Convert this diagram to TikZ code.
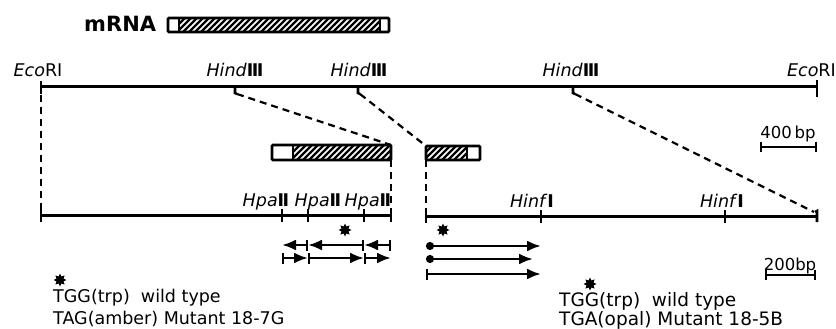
\documentclass[tikz,border=0pt]{standalone}
\usepackage{fontspec}
\setmainfont{DejaVu Sans}
\usetikzlibrary{arrows.meta,shapes.geometric}
\newcommand\myhatch[4]{%
  \begin{scope}
    \clip (#1,#3) rectangle (#2,#4);
    \pgfmathsetmacro\hsA{#1-20}\pgfmathsetmacro\hsB{#1-14}
    \foreach \t in {\hsA,\hsB,...,#2} \draw[line width=2.2pt] (\t,#4) -- ++(18pt,18pt);
  \end{scope}}
\newcommand\rn[1]{\textbf{#1}}
\begin{document}
\begin{tikzpicture}[x=1pt,y=-1pt,
  dna/.style={line width=3pt},
  tk/.style={line width=2.6pt},
  dsh/.style={line width=2.2pt,dash pattern=on 7pt off 5pt},
  boxl/.style={line width=2.6pt,rounded corners=1pt},
  lab/.style={anchor=base,inner sep=0pt,font=\fontsize{17.5}{19}\selectfont},
  txt/.style={anchor=base west,inner sep=0pt},
  ast/.style={star,star points=8,star point ratio=1.7,fill=black,minimum size=13pt,inner sep=0pt},
  arrL/.style={line width=2.6pt,{Bar[width=11pt,line width=2.4pt]}-{Latex[length=14pt,width=11pt]}},
  arrC/.style={line width=2.6pt,{Circle[length=8pt]}-{Latex[length=14pt,width=11pt]}},
  sbar/.style={line width=2.4pt,{Bar[width=10pt]}-{Bar[width=10pt]}}]
\useasboundingbox (0,0) rectangle (836,329);

% mRNA
\node[anchor=base west,inner sep=0pt,font=\bfseries\fontsize{21}{23}\selectfont] (mrna) at (84,32) {mRNA};
\myhatch{179}{380}{18}{32}
\draw[tk] (179,18) -- (179,32) (380,18) -- (380,32);
\draw[boxl] (168,18) rectangle (389,32);

% top map
\coordinate (E1) at (41,87);
\coordinate (H1) at (235,87);
\coordinate (H2) at (358,87);
\coordinate (H3) at (573,87);
\coordinate (E2) at (817,87);
\draw[dna] (E1) -- (E2);
\draw[tk] (41,81) -- (41,94);
\draw[tk] (817,80) -- (817,97);
\foreach \p in {H1,H2,H3} \draw[tk] (\p) -- ++(0,6) -- ++(2,1);
\node[lab] (lE1) at (38,77) {\textit{Eco}RI};
\node[lab] (lH1) at (235,77) {\textit{Hind}\rn{Ⅲ}};
\node[lab] (lH2) at (359,77) {\textit{Hind}\rn{Ⅲ}};
\node[lab] (lH3) at (571,77) {\textit{Hind}\rn{Ⅲ}};
\node[lab,anchor=base east] (lE2) at (836,77) {\textit{Eco}RI};

% boxes
\myhatch{293}{391}{145}{160}
\draw[tk] (293,145) -- (293,160);
\draw[boxl] (272,145) rectangle (391,160);

\myhatch{426}{467}{146}{160}
\draw[tk] (467,146) -- (467,160);
\draw[boxl] (426,146) rectangle (480,160);

\coordinate (B1t) at (391,145);
\coordinate (B1b) at (391,160);
\coordinate (B2t) at (426,146);
\coordinate (B2b) at (426,160);

% lower maps
\coordinate (L0) at (41,215);
\coordinate (L1) at (282,215);
\coordinate (L2) at (308,215);
\coordinate (L3) at (364,215);
\coordinate (L4) at (391,215);
\coordinate (R0) at (426,216);
\coordinate (R1) at (541,216);
\coordinate (R2) at (725,216);
\coordinate (R3) at (817,216);
\draw[dna] (L0) -- (L4);
\draw[dna] (R0) -- (R3);
\foreach \p in {L0,L1,L2,L3,L4,R0,R1,R2} \draw[tk] (\p) ++(0,-6) -- ++(0,13);
\draw[tk] (R3) ++(-2,-4) -- ++(2,-1) -- ++(0,11);

\node[lab] (hp1) at (266,206) {\textit{Hpa}\rn{Ⅱ}};
\node[lab] (hp2) at (318,206) {\textit{Hpa}\rn{Ⅱ}};
\node[lab] (hp3) at (368,206) {\textit{Hpa}\rn{Ⅱ}};
\node[lab] (hf1) at (532,207) {\textit{Hinf}\rn{Ⅰ}};
\node[lab] (hf2) at (722,207) {\textit{Hinf}\rn{Ⅰ}};

% dashed connectors
\draw[dsh] (E1) ++(0,8) -- ([yshift=-6pt]L0);
\draw[dsh] (H1) ++(2,7) -- (B1t);
\draw[dsh] (H2) ++(2,7) -- (B2t);
\draw[dsh] (H3) ++(2,7) -- ([xshift=-3pt,yshift=4pt]R3);
\draw[dsh] (B1b) -- ([yshift=-6pt]L4);
\draw[dsh] (B2b) -- ([yshift=-6pt]R0);

% scale bars
\coordinate (s4a) at (760,147); \coordinate (s4b) at (817,147);
\draw[sbar] (s4a) -- (s4b);
\node[lab,font=\fontsize{16.5}{18}\selectfont] (t400) at (788,138) {400\,bp};
\coordinate (s2a) at (765,275); \coordinate (s2b) at (816,275);
\draw[sbar] (s2a) -- (s2b);
\node[lab,font=\fontsize{16.5}{18}\selectfont] (t200) at (790,270) {200bp};

% left arrows
\node[ast] (a1) at (345,230) {};
\coordinate (u1) at (282,245); \coordinate (u2) at (308,245); \coordinate (u3) at (364,245); \coordinate (u4) at (391,245);
\draw[arrL] (u2) -- (u1);
\draw[arrL] (u3) -- (u2);
\draw[arrL] (u4) -- (u3);
\coordinate (v1) at (282,258); \coordinate (v2) at (308,258); \coordinate (v3) at (364,258); \coordinate (v4) at (391,258);
\draw[arrL] (v1) -- (v2);
\draw[arrL] (v2) -- (v3);
\draw[arrL] (v3) -- (v4);

% right arrows
\node[ast] (a2) at (443,230) {};
\coordinate (w0) at (426,246); \coordinate (w1) at (541,246);
\coordinate (x0) at (426,259); \coordinate (x1) at (533,259);
\coordinate (y0) at (426,274); \coordinate (y1) at (541,274);
\draw[arrC] (w0) -- (w1);
\draw[arrC] (x0) -- (x1);
\draw[arrL] (y0) -- (y1);

% legends
\node[ast] (a3) at (60,280) {};
\node[txt,font=\fontsize{17.5}{19}\selectfont] (tl1) at (53,302) {TGG(trp)\ \ wild type};
\node[txt,font=\fontsize{17.5}{19}\selectfont] (tl2) at (53,324) {TAG(amber) Mutant 18-7G};
\node[ast] (a4) at (590,284) {};
\node[txt,font=\fontsize{18.5}{20}\selectfont] (tr1) at (559,306) {TGG(trp)\ \ wild type};
\node[txt,font=\fontsize{18.5}{20}\selectfont] (tr2) at (559,325) {TGA(opal)\ Mutant 18-5B};
\end{tikzpicture}
\end{document}
